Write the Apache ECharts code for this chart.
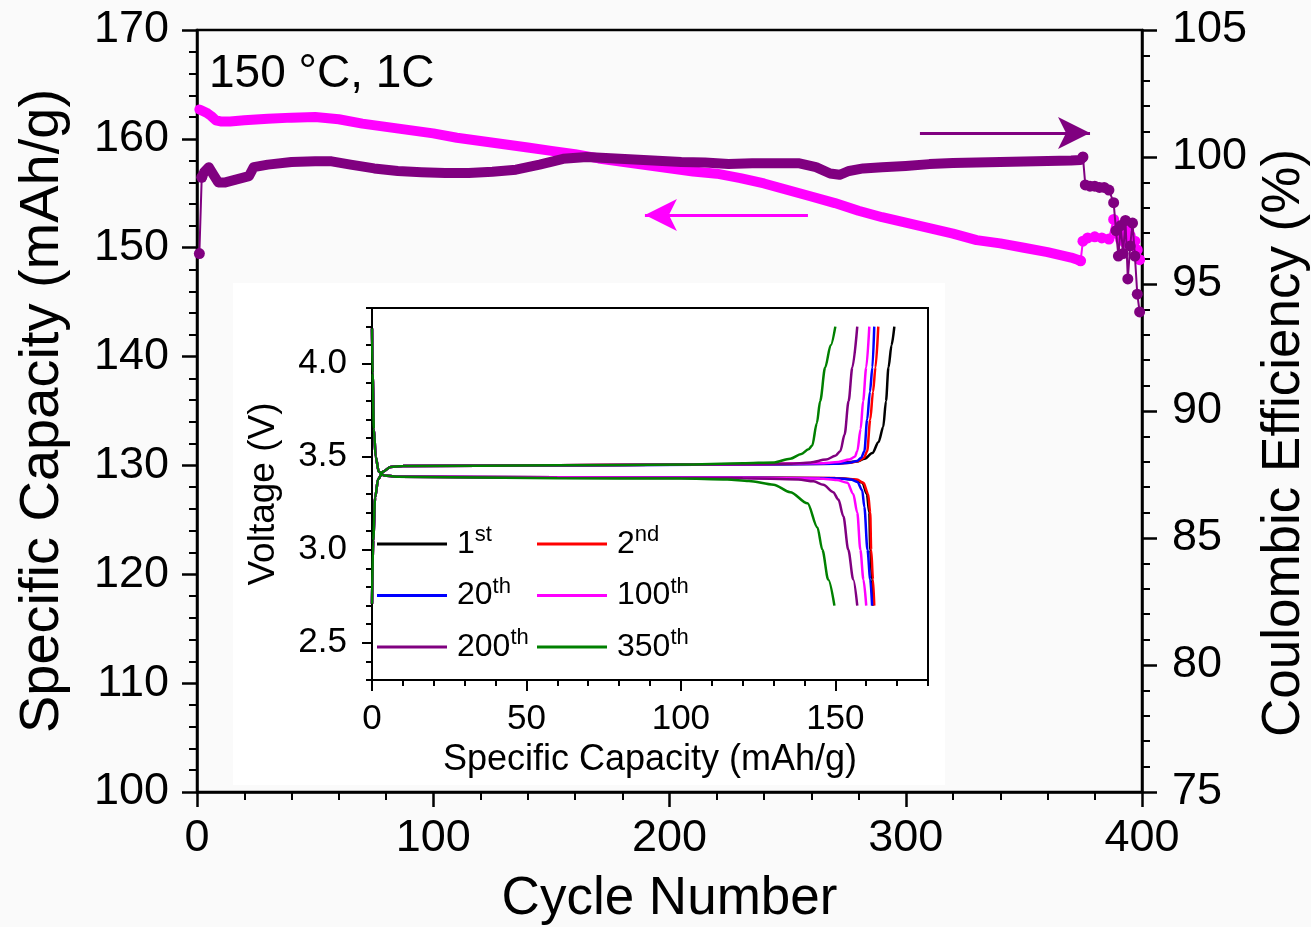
<!DOCTYPE html>
<html><head><meta charset="utf-8">
<script src="https://cdn.jsdelivr.net/npm/echarts@6/dist/echarts.min.js"></script>
<style>html,body{margin:0;padding:0;background:#fafafa}#c{width:1311px;height:927px}</style>
</head><body><div id="c"></div><script>
const FONT = 'Liberation Sans, Arial, sans-serif';

// ---- main chart: specific capacity (left axis) ----
const capBandCycles = [1,2,4,6,8,10,14,20,30,40,50,60,70,80,90,100,110,120,130,140,150,160,170,180,190,200,210,220,230,240,250,260,270,280,290,300,310,320,330,340,350,360,370,374];
const capBandValues = [162.7,162.6,162.4,162.1,161.7,161.6,161.6,161.7,161.85,161.95,162.0,161.8,161.4,161.1,160.8,160.5,160.1,159.8,159.5,159.2,158.9,158.6,158.2,157.9,157.6,157.3,157.0,156.8,156.4,155.9,155.3,154.7,154.1,153.4,152.8,152.3,151.8,151.3,150.7,150.4,150.0,149.6,149.1,148.8];
const capTailCycles = [374,375,377,380,383,386,388,389,390,391,392,393,394,395,396,397,398,399];
const capTailValues = [148.8,150.6,150.9,151.0,150.9,150.8,152.6,151.6,151.2,150.7,151.9,150.4,152.0,151.1,150.2,150.6,149.8,148.9];

// ---- main chart: coulombic efficiency (right axis) ----
const effHeadCycles = [1,2];
const effHeadValues = [96.2,99.2];
const effBandCycles = [2,3,5,7,9,12,16,20,22,24,30,40,50,57,65,75,85,95,105,115,125,135,145,155,165,175,185,195,205,215,225,235,245,255,262,268,272,276,282,290,300,310,320,330,340,350,360,370,374,375];
const effBandValues = [99.2,99.4,99.6,99.3,99.0,99.0,99.1,99.2,99.25,99.6,99.7,99.8,99.83,99.83,99.7,99.55,99.45,99.4,99.37,99.37,99.42,99.5,99.7,99.93,100.0,99.95,99.9,99.85,99.8,99.78,99.72,99.75,99.75,99.75,99.6,99.35,99.3,99.45,99.55,99.6,99.65,99.72,99.76,99.78,99.8,99.82,99.84,99.86,99.88,100.0];
const effTailCycles = [375,376,378,380,382,384,386,388,389,390,391,392,393,394,395,396,397,398,399];
const effTailValues = [100.0,98.9,98.85,98.85,98.8,98.8,98.7,98.2,97.1,96.1,97.3,96.2,97.5,95.2,96.5,97.4,96.1,94.6,93.9];

// annotation arrows (data space)
const capArrow = {from: 258.6, to: 189.6, y: 153.0};
const effArrow = {from: 306, to: 378, y: 100.94};

// axis ticks
const inXLabels = [0,50,100,150];
const inYLabels = [2.5,3.0,3.5,4.0];

// ---- inset: voltage profiles ----
const cycleNames = ['1st','2nd','20th','100th','200th','350th'];
const cycleColors = ['#000000','#FF0000','#0000FF','#FF00FF','#800080','#008000'];
const chargeStart = [[0,2.71],[0.4,3.05],[1,3.28],[2,3.38],[3.5,3.42],[6,3.445],[10,3.45]];
const dischargeStart = [[0,4.19],[0.2,3.95],[0.6,3.65],[1.2,3.5],[2.2,3.42],[4,3.4],[8,3.393]];
const charge1st = [[60,3.455],[120,3.46],[150,3.463],[157,3.475],[159.5,3.49],[162,3.52],[164,3.58],[165.5,3.66],[166.4,3.8],[167.2,3.98],[168.2,4.1],[169.1,4.2]];
const charge2nd = [[60,3.455],[120,3.46],[150,3.463],[155,3.468],[157.5,3.478],[159.3,3.495],[160.3,3.53],[161.3,3.7],[162.2,3.85],[163,3.98],[163.9,4.2]];
const charge20th = [[60,3.453],[120,3.458],[150,3.462],[154.5,3.468],[157,3.478],[158.4,3.495],[159.4,3.53],[160.3,3.7],[161.2,3.85],[162,3.98],[162.6,4.2]];
const charge100th = [[60,3.455],[120,3.46],[145,3.465],[151,3.472],[154.5,3.485],[156.3,3.5],[157.1,3.53],[158.2,3.65],[159,3.8],[160,3.98],[161,4.2]];
const charge200th = [[60,3.455],[110,3.458],[135,3.462],[142,3.47],[147,3.485],[150,3.505],[151.6,3.53],[153,3.62],[154.3,3.8],[155.5,3.98],[157.1,4.2]];
const charge350th = [[60,3.455],[100,3.458],[120,3.465],[130.2,3.47],[135.4,3.49],[139,3.515],[141.3,3.54],[142.5,3.56],[144,3.68],[145.1,3.8],[146.7,3.98],[148.5,4.1],[150,4.2]];
const discharge1st = [[60,3.39],[120,3.388],[150,3.385],[156,3.378],[158.8,3.36],[160.2,3.3],[161,3.2],[161.3,3.0],[161.9,2.84],[162.2,2.7]];
const discharge2nd = [[60,3.39],[120,3.388],[150,3.386],[157,3.378],[159.1,3.36],[160.6,3.3],[161.3,3.2],[161.6,3.0],[162.2,2.84],[162.6,2.7]];
const discharge20th = [[60,3.39],[120,3.388],[150,3.385],[155,3.378],[157.1,3.365],[158.7,3.32],[159.4,3.23],[160.4,3.0],[161.3,2.84],[161.9,2.7]];
const discharge100th = [[60,3.39],[120,3.387],[145,3.383],[150.5,3.375],[153.9,3.36],[155.8,3.3],[157.1,3.2],[158.1,3.0],[159.1,2.84],[160,2.7]];
const discharge200th = [[60,3.388],[120,3.385],[138,3.378],[143,3.368],[146.1,3.35],[149.3,3.31],[151,3.27],[152.6,3.18],[154.2,3.0],[155.8,2.84],[157.1,2.7]];
const discharge350th = [[60,3.385],[100,3.383],[115,3.378],[122,3.37],[130,3.35],[135.4,3.31],[141,3.25],[144.2,3.12],[145.8,3.0],[147.7,2.84],[149.7,2.7]];
const chargeSets = [charge1st,charge2nd,charge20th,charge100th,charge200th,charge350th];
const dischargeSets = [discharge1st,discharge2nd,discharge20th,discharge100th,discharge200th,discharge350th];

function zip(a,b){return a.map((x,i)=>[x,b[i]]);}

const MAGENTA = '#FF00FF', PURPLE = '#800080';
const axisBase = (w) => ({
  axisLine:{show:true,onZero:false,lineStyle:{color:'#000',width:w}},
  splitLine:{show:false}
});

const series = [];
series.push({
  type:'line', xAxisIndex:0, yAxisIndex:0, data:zip(capBandCycles,capBandValues),
  showSymbol:false, lineStyle:{color:MAGENTA,width:10,cap:'round',join:'round'}, itemStyle:{color:MAGENTA},
  z:2, silent:true,
  markLine:{silent:true, symbol:['none','arrow'], symbolSize:[24,32], animation:false,
    lineStyle:{color:MAGENTA,width:3,type:'solid'}, label:{show:false},
    data:[[{coord:[capArrow.from,capArrow.y]},{coord:[capArrow.to,capArrow.y]}]]}
});
series.push({
  type:'line', xAxisIndex:0, yAxisIndex:0, data:zip(capTailCycles,capTailValues),
  symbol:'circle', symbolSize:11, showSymbol:true, lineStyle:{color:MAGENTA,width:2}, itemStyle:{color:MAGENTA}, z:2, silent:true
});
series.push({
  type:'line', xAxisIndex:0, yAxisIndex:1, data:zip(effBandCycles,effBandValues),
  showSymbol:false, lineStyle:{color:PURPLE,width:10,cap:'round',join:'round'}, itemStyle:{color:PURPLE},
  z:3, silent:true,
  markLine:{silent:true, symbol:['none','arrow'], symbolSize:[24,32], animation:false,
    lineStyle:{color:PURPLE,width:3,type:'solid'}, label:{show:false},
    data:[[{coord:[effArrow.from,effArrow.y]},{coord:[effArrow.to,effArrow.y]}]]}
});
series.push({
  type:'line', xAxisIndex:0, yAxisIndex:1, data:zip(effHeadCycles,effHeadValues),
  symbol:'circle', symbolSize:11, showSymbol:true, lineStyle:{color:PURPLE,width:2}, itemStyle:{color:PURPLE}, z:3, silent:true
});
series.push({
  type:'line', xAxisIndex:0, yAxisIndex:1, data:zip(effTailCycles,effTailValues),
  symbol:'circle', symbolSize:11, showSymbol:true, lineStyle:{color:PURPLE,width:2}, itemStyle:{color:PURPLE}, z:3, silent:true
});
cycleNames.forEach((nm,i)=>{
  [chargeStart.concat(chargeSets[i]), dischargeStart.concat(dischargeSets[i])].forEach(d=>{
    series.push({
      name:nm, type:'line', xAxisIndex:2, yAxisIndex:3, data:d, showSymbol:false, symbol:'none',
      smooth:0.3, smoothMonotone:'x', lineStyle:{color:cycleColors[i],width:2.5}, itemStyle:{color:cycleColors[i]},
      z:5+i, silent:true
    });
  });
});

const legendCommon = {
  orient:'vertical', icon:'rect', itemWidth:70, itemHeight:3, itemGap:11.5, padding:0,
  selectedMode:false, z:20,
  formatter:function(name){const m=name.match(/^(\d+)(\D+)$/);return '{n|'+m[1]+'}{s|'+m[2]+'}';},
  textStyle:{color:'#000', fontFamily:FONT, fontSize:32, lineHeight:40, padding:[0,0,0,5],
    rich:{n:{fontSize:32,fontFamily:FONT,color:'#000',lineHeight:40},
          s:{fontSize:22,fontFamily:FONT,color:'#000',verticalAlign:'top',lineHeight:24}}}
};

const option = {
  backgroundColor:'#fafafa',
  animation:false,
  textStyle:{fontFamily:FONT},
  graphic:[{type:'rect', z:-10, silent:true, shape:{x:233,y:283,width:712,height:502}, style:{fill:'#ffffff'}}],
  title:{text:'150 °C, 1C', left:209, top:51, padding:0, textStyle:{fontFamily:FONT,fontSize:46,fontWeight:'normal',color:'#000'}},
  grid:[
    {left:197, top:30, width:945, height:762, show:true, borderColor:'#000', borderWidth:2.5, backgroundColor:'transparent', containLabel:false, outerBoundsMode:'none'},
    {left:372, top:308, width:556, height:372, show:true, borderColor:'#000', borderWidth:2, backgroundColor:'transparent', z:10, containLabel:false, outerBoundsMode:'none'}
  ],
  legend:[
    Object.assign({data:['1st','20th','200th'], left:377, top:524}, legendCommon),
    Object.assign({data:['2nd','100th','350th'], left:537, top:524}, legendCommon)
  ],
  xAxis:[
    Object.assign({gridIndex:0, type:'value', position:'bottom', min:0, max:400, interval:100,
      axisTick:{show:true,length:15,lineStyle:{color:'#000',width:2.5}},
      minorTick:{show:true,splitNumber:5,length:8,lineStyle:{color:'#000',width:2}},
      axisLabel:{fontSize:45,color:'#000',fontFamily:FONT,margin:24},
      name:'Cycle Number', nameLocation:'middle', nameGap:81,
      nameTextStyle:{fontSize:53,color:'#000',fontFamily:FONT}}, axisBase(2.5)),
    Object.assign({gridIndex:1, type:'value', position:'bottom', min:0, max:180, interval:10, z:10,
      axisTick:{show:true,length:6,lineStyle:{color:'#000',width:2}},
      axisLabel:{show:false}}, axisBase(2)),
    Object.assign({gridIndex:1, type:'value', position:'bottom', min:0, max:180, z:10,
      axisTick:{show:true,length:11,customValues:inXLabels,lineStyle:{color:'#000',width:2}},
      axisLabel:{show:true,customValues:inXLabels,fontSize:35,color:'#000',fontFamily:FONT,margin:22},
      name:'Specific Capacity (mAh/g)', nameLocation:'middle', nameGap:62,
      nameTextStyle:{fontSize:36,color:'#000',fontFamily:FONT}}, axisBase(2))
  ],
  yAxis:[
    Object.assign({gridIndex:0, type:'value', position:'left', min:100, max:170, interval:10,
      axisTick:{show:true,length:15,lineStyle:{color:'#000',width:2.5}},
      minorTick:{show:true,splitNumber:5,length:8,lineStyle:{color:'#000',width:2}},
      axisLabel:{fontSize:45,color:'#000',fontFamily:FONT,margin:28},
      name:'Specific Capacity (mAh/g)', nameLocation:'middle', nameGap:126, nameRotate:90,
      nameTextStyle:{fontSize:56,color:'#000',fontFamily:FONT}}, axisBase(2.5)),
    Object.assign({gridIndex:0, type:'value', position:'right', min:75, max:105, interval:5,
      axisTick:{show:true,length:15,lineStyle:{color:'#000',width:2.5}},
      minorTick:{show:true,splitNumber:5,length:8,lineStyle:{color:'#000',width:2}},
      axisLabel:{fontSize:45,color:'#000',fontFamily:FONT,margin:30},
      name:'Coulombic Efficiency (%)', nameLocation:'middle', nameGap:114, nameRotate:90,
      nameTextStyle:{fontSize:53,color:'#000',fontFamily:FONT,padding:[0,64,0,0]}}, axisBase(2.5)),
    Object.assign({gridIndex:1, type:'value', position:'left', min:2.3, max:4.3, interval:0.1, z:10,
      axisTick:{show:true,length:6,lineStyle:{color:'#000',width:2}},
      axisLabel:{show:false}}, axisBase(2)),
    Object.assign({gridIndex:1, type:'value', position:'left', min:2.3, max:4.3, z:10,
      axisTick:{show:true,length:10,customValues:inYLabels,lineStyle:{color:'#000',width:2}},
      axisLabel:{show:true,customValues:inYLabels,fontSize:35,color:'#000',fontFamily:FONT,margin:25,
        formatter:v=>Number(v).toFixed(1)},
      name:'Voltage (V)', nameLocation:'middle', nameGap:90, nameRotate:90,
      nameTextStyle:{fontSize:37,color:'#000',fontFamily:FONT}}, axisBase(2))
  ],
  series:series
};
const chart = echarts.init(document.getElementById('c'), null, {renderer:'canvas'});
chart.setOption(option);
</script></body></html>
